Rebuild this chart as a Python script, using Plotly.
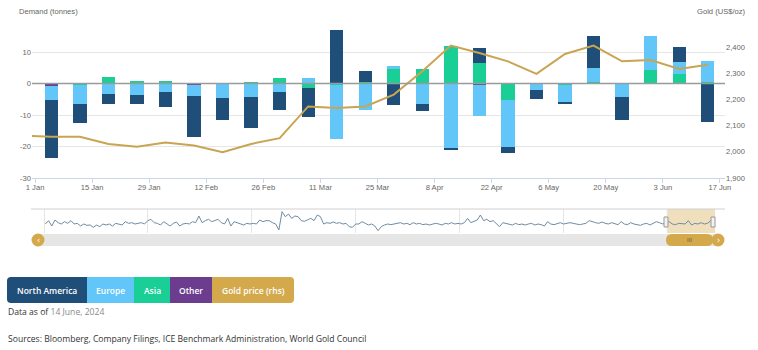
import plotly.graph_objects as go
import pandas as pd

# ---------------- data ----------------
week_dates = ["2024-01-05", "2024-01-12", "2024-01-19", "2024-01-26", "2024-02-02", "2024-02-09",
              "2024-02-16", "2024-02-23", "2024-03-01", "2024-03-08", "2024-03-15", "2024-03-22",
              "2024-03-29", "2024-04-05", "2024-04-12", "2024-04-19", "2024-04-26", "2024-05-03",
              "2024-05-10", "2024-05-17", "2024-05-24", "2024-05-31", "2024-06-07", "2024-06-14"]
north_america = [-18.5, -6.0, -3.4, -3.0, -4.8, -13.1, -7.0, -10.0, -5.8, -9.3, 17.2, 3.4,
                 -6.7, -2.3, -0.4, 4.7, -2.1, -3.1, -0.3, 10.1, -7.4, 0.0, 4.6, -12.2]
europe = [-4.5, -6.0, -3.1, -3.5, -2.5, -3.4, -4.6, -4.0, -2.5, 1.9, -17.0, -8.2,
          1.2, -6.3, -20.5, -9.8, -14.8, -1.8, -5.6, 4.3, -4.0, 10.8, 3.9, 6.8]
asia = [0.0, -0.5, 2.2, 0.85, 1.0, 0.0, 0.0, 0.6, 1.9, -1.3, -0.5, 0.6,
        4.6, 4.7, 12.2, 6.6, -5.1, 0.0, -0.3, 0.7, 0.0, 4.4, 3.2, 0.5]
other = [-0.6, 0.0, 0.0, 0.0, 0.0, -0.4, 0.0, 0.0, 0.0, 0.0, 0.0, 0.0,
         0.0, 0.0, 0.0, -0.4, 0.0, 0.0, 0.0, 0.0, 0.0, 0.0, 0.0, 0.0]

gold_dates = ["2023-12-29"] + week_dates
gold_price = [2062, 2057, 2057, 2030, 2019, 2035, 2024, 1998, 2030, 2052, 2173, 2167, 2173,
              2218, 2307, 2405, 2377, 2345, 2297, 2373, 2405, 2345, 2350, 2316, 2332]

# navigator series (weekly total flows, 2018 - Jun 2024, read approximately)
nav_values = [0, 5, -3, 6, 2, 0, 3.5, 1, 5, 0, 1, -3, 0, -2, -1.5, -5, -1.5, -4, 0, -1.5,
              0, -3, 1, 0, -1.5, 3.5, 1, 2, 0, 1, 2, 0, 5, 7, 2, 1, -1.5, 3.5, 0, -3,
              1, 3, -3, 0, 1, 0, 3.5, 2, 12, 2, 5, 7, 3.5, 5, 7, 2, 0, 8.5, -3, 3.5,
              2, 0, -1.5, 1, 0, 1, 0, 6, 3.5, 5,
              5, 2, 0, -9, 18.5, 11, 15, 8.5, 12, 11, 5, 4, 6, 8.5, 5, 13.5, 11, 0, 2, 1,
              3, 1, 2, 0, 1, -4, -5, 0, 0, 3.5, 1, -1.5, 0, -3, -10, -4, -1.5, 0, -1, 0,
              1, 2, 0, 1, -1, 2, 0, 1, -1, 0, -1.5, 0, 1, 0, -1.5, 1, 0, 2, 0, 1,
              0, 2, 8.5, 2, 3.5, 6, 13.5, 5, 7, 3.5, 5, 0, -4, 2, 1,
              0, -1.5, 1, -1, 0, -1.5, 0, 1, -1.5, 0, -1, -3, 3.5, 0, -1, 1, 2, 0, 1, 2,
              1, 0, -1, 0, 1, 5, 3, 2, 1, 3, 1, 0, 2, 0, -1, 3.5, 0, -1, 2, 0,
              -1, -2, 0, 1, -1.5, 1, 3.5, 2, 0, 2, 3.5, 0, -1, 1, 0, 0, 5, -1.5, 1, 0,
              2, 0, 1, 5, 0]
nav_start, nav_end = "2018-01-05", "2024-06-14"

left_ticks = [-30, -20, -10, 0, 10, 20]
right_ticks = [1900, 2000, 2100, 2200, 2300, 2400, 2500]

series = [("North America", north_america, "#1f4e79"),
          ("Europe", europe, "#62c6f8"),
          ("Asia", asia, "#19cf96"),
          ("Other", other, "#6c3d8e")]
gold_color = "#c9a452"
legend_items = [("North America", "#1f4e79"), ("Europe", "#62c6f8"), ("Asia", "#19cf96"),
                ("Other", "#6c3d8e"), ("Gold price (rhs)", "#d3a94b")]

# ---------------- layout helpers ----------------
W, H = 758, 350
def px(x):
    return x / W
def py(y):
    return 1 - y / H

main_range = ["2023-12-31 06:00", "2024-06-18 06:00"]
nav_range = ["2017-11-19", "2024-07-23"]
day_ms = 86400000
label_font = dict(family="Liberation Sans, Arial, sans-serif", size=7.6, color="#666666")
text_font = dict(family="Open Sans, sans-serif", size=8.6, color="#333333")

fig = go.Figure()

# stacked bars: closest-to-zero series first
for name, vals, col in reversed(series):
    fig.add_trace(go.Bar(x=week_dates, y=vals, name=name, marker_color=col,
                         marker_line_width=0, width=3.26 * day_ms,
                         xaxis="x", yaxis="y", showlegend=False))

fig.add_trace(go.Scatter(x=gold_dates, y=gold_price, mode="lines", name="Gold price (rhs)",
                         line=dict(color=gold_color, width=2), xaxis="x", yaxis="y2",
                         showlegend=False, cliponaxis=True))

nav_dates = pd.date_range(nav_start, nav_end, periods=len(nav_values))
fig.add_trace(go.Scatter(x=nav_dates, y=nav_values, mode="lines",
                         line=dict(color="#6f8ca3", width=1), xaxis="x2", yaxis="y3",
                         showlegend=False, hoverinfo="skip"))

shapes = []
# zero line above bars
shapes.append(dict(type="line", xref="paper", yref="y", x0=px(32), x1=px(725), y0=0, y1=0,
                   line=dict(color="#9a9a9a", width=1.5), layer="above"))
# navigator top outline
shapes.append(dict(type="line", xref="paper", yref="paper", x0=px(31), x1=px(725),
                   y0=py(209), y1=py(209), line=dict(color="#d0d0d0", width=1)))
# navigator highlight
shapes.append(dict(type="rect", xref="x2", yref="paper", x0=main_range[0], x1=main_range[1],
                   y0=py(233), y1=py(209), fillcolor="rgba(213,170,80,0.38)",
                   line=dict(width=0), layer="below"))
# scrollbar track
shapes.append(dict(type="rect", xref="paper", yref="paper", x0=px(36), x1=px(718),
                   y0=py(246), y1=py(234), fillcolor="#e6e6e6", line=dict(width=0)))

def rounded(x0, y0, x1, y1, r, left=True, right=True):
    # pixel coordinates -> path in paper coords
    p = []
    if left:
        p.append(f"M{px(x0 + r)},{py(y0)}")
    else:
        p.append(f"M{px(x0)},{py(y0)}")
    if right:
        p.append(f"L{px(x1 - r)},{py(y0)}")
        p.append(f"Q{px(x1)},{py(y0)} {px(x1)},{py(y0 + r)}")
        p.append(f"L{px(x1)},{py(y1 - r)}")
        p.append(f"Q{px(x1)},{py(y1)} {px(x1 - r)},{py(y1)}")
    else:
        p.append(f"L{px(x1)},{py(y0)}")
        p.append(f"L{px(x1)},{py(y1)}")
    if left:
        p.append(f"L{px(x0 + r)},{py(y1)}")
        p.append(f"Q{px(x0)},{py(y1)} {px(x0)},{py(y1 - r)}")
        p.append(f"L{px(x0)},{py(y0 + r)}")
        p.append(f"Q{px(x0)},{py(y0)} {px(x0 + r)},{py(y0)}")
    else:
        p.append(f"L{px(x0)},{py(y1)}")
    return " ".join(p) + " Z"

# scrollbar thumb (rounded)
shapes.append(dict(type="path", xref="paper", yref="paper",
                   path=rounded(666, 234, 713, 246, 6), fillcolor="#d3a94b", line=dict(width=0)))
# scrollbar buttons (circles)
for cx in (38, 718):
    shapes.append(dict(type="circle", xref="paper", yref="paper", x0=px(cx - 6.5), x1=px(cx + 6.5),
                       y0=py(240 + 6.5), y1=py(240 - 6.5), fillcolor="#d3a94b", line=dict(width=0)))
# navigator handles
for hx in (666, 713):
    shapes.append(dict(type="rect", xref="paper", yref="paper", x0=px(hx - 2), x1=px(hx + 2),
                       y0=py(227), y1=py(217), fillcolor="#f2f2f2",
                       line=dict(color="#999999", width=1), layer="above"))

# legend boxes
bounds = [7, 87, 134, 170, 212, 294]
for i, (lab, col) in enumerate(legend_items):
    x0, x1 = bounds[i], bounds[i + 1]
    shapes.append(dict(type="path", xref="paper", yref="paper",
                       path=rounded(x0, 277, x1, 303, 4, left=(i == 0), right=(i == len(legend_items) - 1)),
                       fillcolor=col, line=dict(width=0)))

annotations = []
for i, (lab, col) in enumerate(legend_items):
    annotations.append(dict(text=lab, xref="paper", yref="paper", x=px((bounds[i] + bounds[i + 1]) / 2),
                            y=py(290), showarrow=False, xanchor="center", yanchor="middle",
                            font=dict(family="Open Sans, sans-serif", size=8.5, color="#ffffff", weight=600)))
annotations += [
    dict(text="Demand (tonnes)", xref="paper", yref="paper", x=px(17), y=py(12), showarrow=False,
         xanchor="left", yanchor="middle", font=label_font),
    dict(text="Gold (US$/oz)", xref="paper", yref="paper", x=px(748), y=py(12), showarrow=False,
         xanchor="right", yanchor="middle", font=label_font),
    dict(text="Data as of <span style='color:#8a8a8a'>14 June, 2024</span>", xref="paper", yref="paper",
         x=px(6), y=py(312), showarrow=False, xanchor="left", yanchor="middle", font=text_font),
    dict(text="Sources: Bloomberg, Company Filings, ICE Benchmark Administration, World Gold Council",
         xref="paper", yref="paper", x=px(6), y=py(339), showarrow=False, xanchor="left",
         yanchor="middle", font=text_font),
    dict(text="III", xref="paper", yref="paper", x=px(689.5), y=py(240), showarrow=False,
         xanchor="center", yanchor="middle",
         font=dict(family="Liberation Sans, Arial, sans-serif", size=6, color="#6b5a35")),
    dict(text="‹", xref="paper", yref="paper", x=px(38), y=py(240.5), showarrow=False,
         xanchor="center", yanchor="middle", font=dict(family="DejaVu Sans", size=8, color="#ffffff")),
    dict(text="›", xref="paper", yref="paper", x=px(718), y=py(240.5), showarrow=False,
         xanchor="center", yanchor="middle", font=dict(family="DejaVu Sans", size=8, color="#ffffff")),
]

fig.update_layout(
    width=W, height=H,
    margin=dict(l=0, r=0, t=0, b=0, autoexpand=False),
    paper_bgcolor="white", plot_bgcolor="white",
    barmode="relative", bargap=0,
    showlegend=False,
    xaxis=dict(domain=[px(32), px(725)], type="date", range=main_range, anchor="y",
               tick0="2024-01-01", dtick=14 * day_ms, tickformat="%-d %b", automargin=False,
               showgrid=False, showline=True, linecolor="#ccd6eb", linewidth=1,
               ticks="outside", ticklen=4, tickcolor="#ccd6eb", tickfont=label_font,
               ticklabelstandoff=-2),
    yaxis=dict(domain=[py(178), py(20.7)], range=[-30, 20], tickvals=left_ticks, automargin=False,
               ticktext=[str(v) if v != 20 else "" for v in left_ticks],
               showgrid=True, gridcolor="#e6e6e6", gridwidth=1, zeroline=False,
               tickfont=label_font, ticks="", showline=False),
    yaxis2=dict(overlaying="y", side="right", anchor="x", range=[1900, 2500], tickvals=right_ticks,
                ticktext=[f"{v:,}" if v != 2500 else "" for v in right_ticks], automargin=False,
                showgrid=False, zeroline=False, tickfont=label_font, ticks=""),
    xaxis2=dict(domain=[px(32), px(725)], type="date", range=nav_range, anchor="y3", automargin=False,
                tick0="2019-01-01", dtick="M12", showgrid=True, gridcolor="#e6e6e6",
                showticklabels=False, ticks="", showline=False, zeroline=False),
    yaxis3=dict(domain=[py(233), py(209)], range=[-13.5, 22.5], showgrid=False, automargin=False,
                showticklabels=False, zeroline=False, showline=False, ticks=""),
    shapes=shapes, annotations=annotations,
)

fig.write_html("out.html", config={"displayModeBar": False})
